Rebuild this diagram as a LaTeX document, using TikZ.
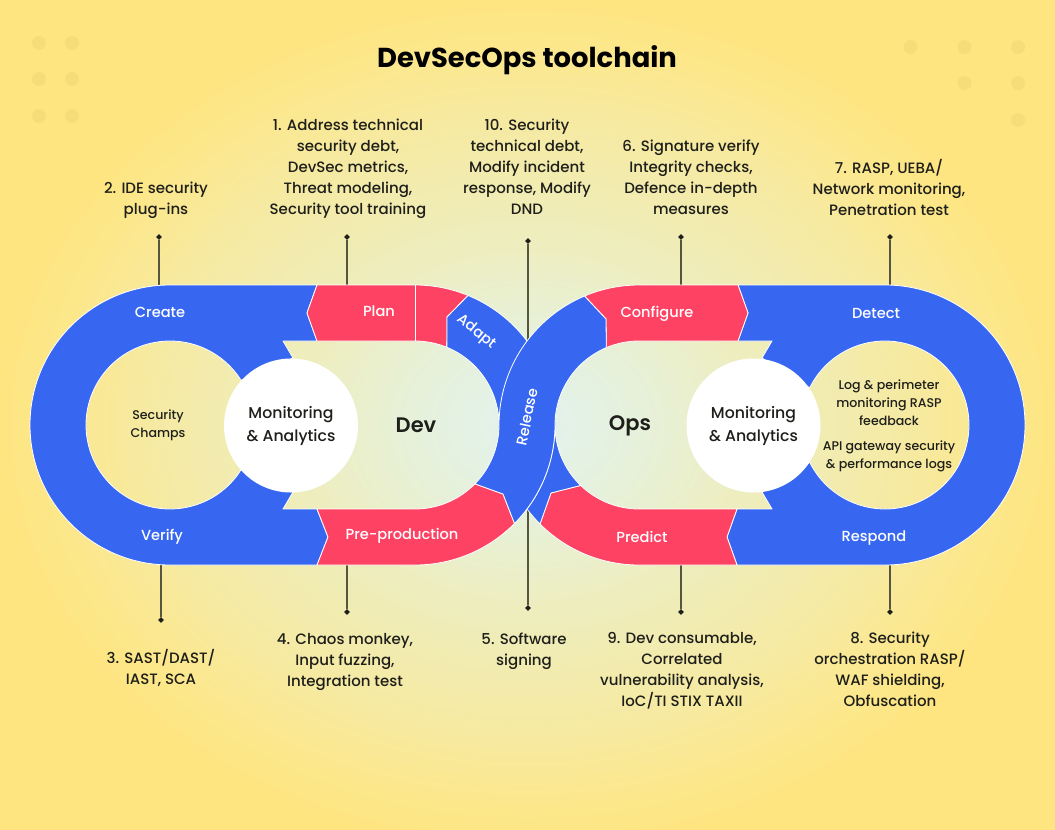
\documentclass[tikz,border=0pt]{standalone}
\usepackage{fontspec}
\setmainfont{Poppins}
\newfontfamily\med{Poppins Medium}
\newfontfamily\semi{Poppins SemiBold}
\newfontfamily\heavy{Poppins Bold}
\usetikzlibrary{calc,shapes.geometric}
\definecolor{bandblue}{HTML}{3767F1}
\definecolor{bandred}{HTML}{FE4263}
\definecolor{ink}{HTML}{1E1E1A}
\definecolor{leader}{HTML}{56563E}
\definecolor{dotc}{HTML}{F6DD79}
\definecolor{bga}{HTML}{E2F3EF}
\definecolor{bgb}{HTML}{E6F1DC}
\definecolor{bgc}{HTML}{EEEDBD}
\definecolor{bgd}{HTML}{F6EAA2}
\definecolor{bge}{HTML}{FCE78B}
\definecolor{bgf}{HTML}{FEE580}
\pgfdeclareradialshading{bgshade}{\pgfpointorigin}{
 color(0bp)=(bga); color(5bp)=(bgb); color(11bp)=(bgc); color(18bp)=(bgd); color(22.5bp)=(bge); color(25bp)=(bgf); color(50bp)=(bgf)}
\tikzset{
 band/.style={draw=white,line width=0.8pt,line join=round},
 blueband/.style={band,fill=bandblue},
 redband/.style={band,fill=bandred},
 lab/.style={font=\med\fontsize{15}{21}\selectfont,align=center,text=ink,inner sep=0pt},
 small/.style={font=\med\fontsize{12.6}{18}\selectfont,align=center,text=ink,inner sep=0pt},
 bandlab/.style={font=\med\fontsize{14.6}{17}\selectfont,text=white,inner sep=0pt},
 hub/.style={circle,fill=white,minimum size=134pt,inner sep=0pt,font=\med\fontsize{15.7}{23}\selectfont,align=center,text=ink},
 tip/.style={diamond,fill=ink,minimum size=6pt,inner sep=0pt},
 lead/.style={draw=leader,line width=1.4pt},
 dot/.style={circle,fill=dotc,minimum size=14pt,inner sep=0pt},
 big/.style={font=\semi\fontsize{21}{24}\selectfont,text=ink,inner sep=0pt}
}
\begin{document}
\begin{tikzpicture}[x=1pt,y=1pt,yscale=-1]
\useasboundingbox (0,0) rectangle (1055,830);
\shade[shading=bgshade] (-2,0) rectangle (1057,850);
% dots
\foreach \n/\x/\y in {a/39/43,b/72/43,c/39/79,d/72/79,e/39/116,f/72/116,g/910.5/47,h/964.5/47,i/1018/47,j/964.5/83,k/1018/83,l/1018/120}
  \node[dot] (dot\n) at (\x,\y) {};
% title
\node[font=\heavy\fontsize{27.4}{30}\selectfont,text=black,inner sep=0pt] (title) at (527,60) {DevSecOps toolchain};
% centres
\coordinate (D) at (415,425);
\coordinate (O) at (639,425);
% labels
\node[lab] (l1) at (348,169) {1. Address technical\\security debt,\\DevSec metrics,\\Threat modeling,\\Security tool training};
\node[lab] (l2) at (156,200.5) {2. IDE security\\plug-ins};
\node[lab] (l10) at (527,167) {10. Security\\technical debt,\\Modify incident\\response, Modify\\DND};
\node[lab] (l6) at (691,177.5) {6. Signature verify\\Integrity checks,\\Defence in-depth\\measures};
\node[lab] (l7) at (889,187) {7. RASP, UEBA/\\Network monitoring,\\Penetration test};
\node[lab] (l3) at (161,667.5) {3. SAST/DAST/\\IAST, SCA};
\node[lab] (l4) at (345,662) {4. Chaos monkey,\\Input fuzzing,\\Integration test};
\node[lab] (l5) at (524,651.5) {5. Software\\signing};
\node[lab] (l9) at (682,670.5) {9. Dev consumable,\\Correlated\\vulnerability analysis,\\IoC/TI STIX TAXII};
\node[lab] (l8) at (890,669.5) {8. Security\\orchestration RASP/\\WAF shielding,\\Obfuscation};
% leader tips and feet
\foreach \n/\x/\y/\fy in {a/159/237/290,b/347/237/290,c/528/241/345,d/681/237/290,e/890/237/290,f/161/620/560,g/347/612/560,h/528/608/505,i/681/612/560,j/890/612/560}{
  \node[tip] (tip\n) at (\x,\y) {};
  \coordinate (foot\n) at (\x,\fy);
  \draw[lead] (tip\n) -- (foot\n);
}
% left blue C
\path[blueband] (317,285) -- (170,285) arc[start angle=270,end angle=90,radius=140] -- (317,565) -- (328,537) -- (317,509) -- (283,509) -- (293,492) -- ($(170,425)+(32.2:84)$) arc[start angle=32.2,end angle=327.8,radius=84] -- (293,358) -- (283,341) -- (317,341) -- (307,313) -- cycle;
% right blue
\path[blueband] (738,285) -- (885,285) arc[start angle=-90,end angle=90,radius=140] -- (737,565) -- (727,537) -- (737,509) -- (772,509) -- (762,492) -- ($(885,425)+(153.7:84)$) arc[start angle=153.7,end angle=-153.7,radius=84] -- (762,358) -- (772,341) -- (738,341) -- (748,313) -- cycle;
% plan
\path[redband] (317,285) -- (415,285) arc[start angle=-90,end angle=-67.7,radius=140] -- (447,317) -- ($(D)+(-67.7:84)$) arc[start angle=-67.7,end angle=-90,radius=84] -- (317,341) -- (307,313) -- cycle;
\draw[white,line width=0.8pt] (415,285) -- (415,341);
% adapt
\path[blueband] ($(D)+(-67.7:140)$) arc[start angle=-67.7,end angle=-36.87,radius=140] -- ($(D)+(0:84)$) arc[start angle=0,end angle=-67.7,radius=84] -- (447,317) -- cycle;
% preproduction
\path[redband] (317,509) -- (415,509) arc[start angle=90,end angle=44.5,radius=84] -- (503,494) -- ($(D)+(44.7:140)$) arc[start angle=44.7,end angle=90,radius=140] -- (317,565) -- (328,537) -- cycle;
% configure
\path[redband] (738,285) -- (639,285) arc[start angle=270,end angle=247.1,radius=140] -- (606,319) -- ($(O)+(247.1:84)$) arc[start angle=247.1,end angle=270,radius=84] -- (738,341) -- (748,313) -- cycle;
% predict
\path[redband] (737,565) -- (639,565) arc[start angle=90,end angle=135,radius=140] -- (551,493) -- ($(O)+(134:84)$) arc[start angle=134,end angle=90,radius=84] -- (737,509) -- (727,537) -- cycle;
% small blue piece
\path[blueband] ($(D)+(36.87:140)$) arc[start angle=36.87,end angle=0,radius=140] arc[start angle=180,end angle=134,radius=84] -- (551,493) -- ($(O)+(135:140)$) arc[start angle=135,end angle=143.13,radius=140] -- cycle;
% release
\path[blueband] ($(O)+(247.1:140)$) arc[start angle=247.1,end angle=180,radius=140] arc[start angle=0,end angle=44.5,radius=84] -- (503,494) -- ($(D)+(44.7:140)$) arc[start angle=44.7,end angle=0,radius=140] arc[start angle=180,end angle=247.1,radius=84] -- (606,319) -- cycle;
% hubs
\node[hub] (hubl) at (291,425.5) {Monitoring\\\& Analytics};
\node[hub] (hubr) at (753.5,425.5) {Monitoring\\\& Analytics};
\node[big] (dev) at (416,425) {Dev};
\node[big] (ops) at (630,425.5) {Ops};
% inner text
\node[small] (champs) at (158,425) {Security\\Champs};
\node[small] (logs) at (889,403) {Log \& perimeter\\monitoring RASP\\feedback};
\node[small] (api) at (889,456) {API gateway security\\\& performance logs};
% band labels
\node[bandlab] (create) at (160,312) {Create};
\node[bandlab] (verify) at (162,536.5) {Verify};
\node[bandlab] (plan) at (379,311.5) {Plan};
\node[bandlab] (prepro) at (402,536) {Pre-production};
\node[bandlab,rotate=-39] (adapt) at (476,332) {Adapt};
\node[bandlab,rotate=78] (release) at (527,417) {Release};
\node[bandlab] (configure) at (657,314) {Configure};
\node[bandlab] (predict) at (642,536.5) {Predict};
\node[bandlab] (detect) at (876,313) {Detect};
\node[bandlab] (respond) at (874,538) {Respond};
\end{tikzpicture}
\end{document}
